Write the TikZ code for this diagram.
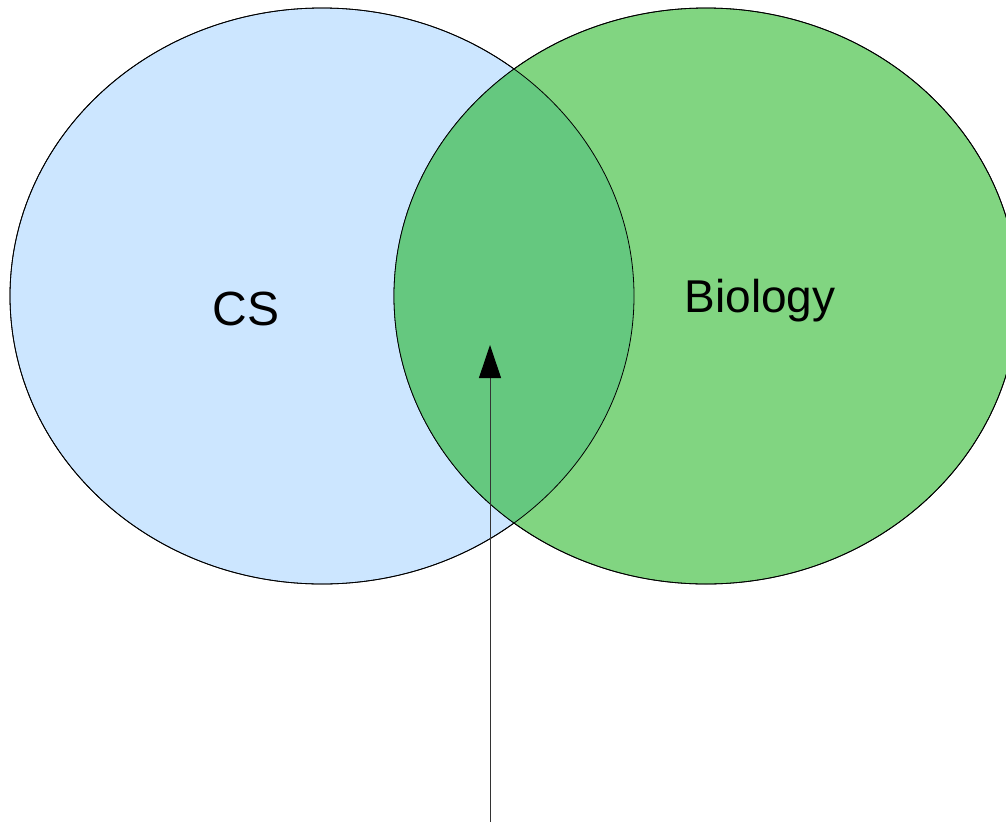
\documentclass[tikz,border=0pt]{standalone}
\usepackage{fontspec}
\setmainfont{Liberation Sans}
\usetikzlibrary{arrows.meta,shapes.geometric}
\definecolor{csblue}{HTML}{CCE6FF}
\definecolor{biogreen}{HTML}{81D581}
\definecolor{overlapgreen}{HTML}{65C87F}
\begin{document}
\begin{tikzpicture}[x=1pt,y=-1pt,
  setshape/.style={ellipse, minimum width=624pt, minimum height=576pt, inner sep=0pt, draw=black, line width=0.8pt},
  setlabel/.style={inner sep=0pt, anchor=base},
  pointer/.style={draw=black!80, line width=1pt, -{Triangle[length=33pt,width=22pt,color=black,fill=black]}}]
\useasboundingbox (0,0) rectangle (1006,822);
\node[setshape, fill=csblue] (cs) at (322,296) {};
\node[setshape, fill=biogreen] (bio) at (706,296) {};
\begin{scope}
  \clip (322,296) ellipse [x radius=312pt, y radius=288pt];
  \fill[overlapgreen] (706,296) ellipse [x radius=312pt, y radius=288pt];
\end{scope}
\draw[line width=0.8pt] (322,296) ellipse [x radius=312pt, y radius=288pt];
\draw[line width=0.8pt] (706,296) ellipse [x radius=312pt, y radius=288pt];
\node[setlabel, font=\fontsize{48}{56}\selectfont] (cslabel) at (246,325) {CS};
\node[setlabel, font=\fontsize{46}{54}\selectfont] (biolabel) at (760,312) {Biology};
\coordinate (start) at (490,822);
\coordinate (tip) at (490,345);
\draw[pointer] (start) -- (tip);
\end{tikzpicture}
\end{document}
